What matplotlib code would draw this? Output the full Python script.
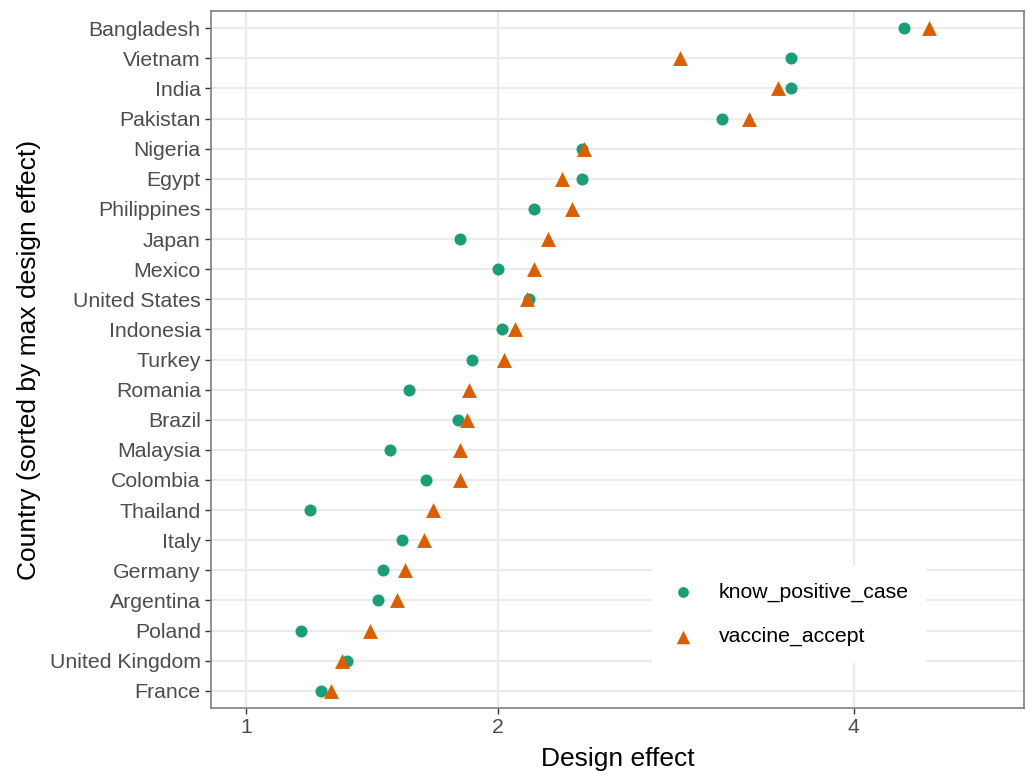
import numpy as np
import matplotlib.pyplot as plt

plt.rcParams['font.family'] = ['Liberation Sans', 'DejaVu Sans']

countries = ["Bangladesh", "Vietnam", "India", "Pakistan", "Nigeria", "Egypt",
             "Philippines", "Japan", "Mexico", "United States", "Indonesia",
             "Turkey", "Romania", "Brazil", "Malaysia", "Colombia", "Thailand",
             "Italy", "Germany", "Argentina", "Poland", "United Kingdom", "France"]
know_positive_case = [4.34, 3.60, 3.60, 3.18, 2.41, 2.41, 2.17, 1.83, 2.00, 2.15,
                      2.02, 1.88, 1.61, 1.82, 1.53, 1.68, 1.22, 1.58, 1.50, 1.48,
                      1.19, 1.36, 1.26]
vaccine_accept = [4.51, 2.94, 3.52, 3.34, 2.42, 2.31, 2.36, 2.24, 2.17, 2.14,
                  2.08, 2.03, 1.87, 1.86, 1.83, 1.83, 1.71, 1.67, 1.59, 1.56,
                  1.45, 1.34, 1.30]

green = "#1B9E77"
orange = "#D95F02"

fig = plt.figure(figsize=(10.26, 7.71), dpi=100)
ax = fig.add_axes([0.2057, 0.0817, 0.7923, 0.904])

ypos = np.arange(len(countries))[::-1]

ax.scatter(know_positive_case, ypos, s=75, marker='o', color=green,
           label="know_positive_case", zorder=3, linewidths=0)
ax.scatter(vaccine_accept, ypos, s=115, marker='^', color=orange,
           label="vaccine_accept", zorder=3, linewidths=0)

# sqrt x scale, like scale_x_sqrt
ax.set_xscale('function', functions=(np.sqrt, np.square))
ax.set_xlim(0.888, 5.2)
ax.set_xticks([1, 2, 4])
ax.set_xticklabels(["1", "2", "4"])
ax.minorticks_off()
ax.set_ylim(-0.57, len(countries) - 1 + 0.57)
ax.set_yticks(ypos)
ax.set_yticklabels(countries)

ax.grid(True, color="#EBEBEB", linewidth=1.6, zorder=0)
ax.set_axisbelow(True)
for s in ax.spines.values():
    s.set_color("#7F7F7F")
    s.set_linewidth(1.2)

ax.tick_params(axis='both', colors="#333333", labelcolor="#4D4D4D",
               labelsize=15.3, length=4, width=1.0)
ax.set_xlabel("Design effect", fontsize=19, labelpad=7)
ax.set_ylabel("Country (sorted by max design effect)", fontsize=19, labelpad=6)

leg = ax.legend(loc='lower right', bbox_to_anchor=(0.879, 0.064), frameon=True,
                facecolor='white', edgecolor='none', framealpha=1, fontsize=15.3,
                borderpad=0.8, labelspacing=1.2, handletextpad=1.0,
                handlelength=1.35, borderaxespad=0, fancybox=False)
for h in leg.legend_handles:
    h.set_sizes([60] if h.get_label() == "know_positive_case" else [95])

fig.savefig("out.png", dpi=100)
